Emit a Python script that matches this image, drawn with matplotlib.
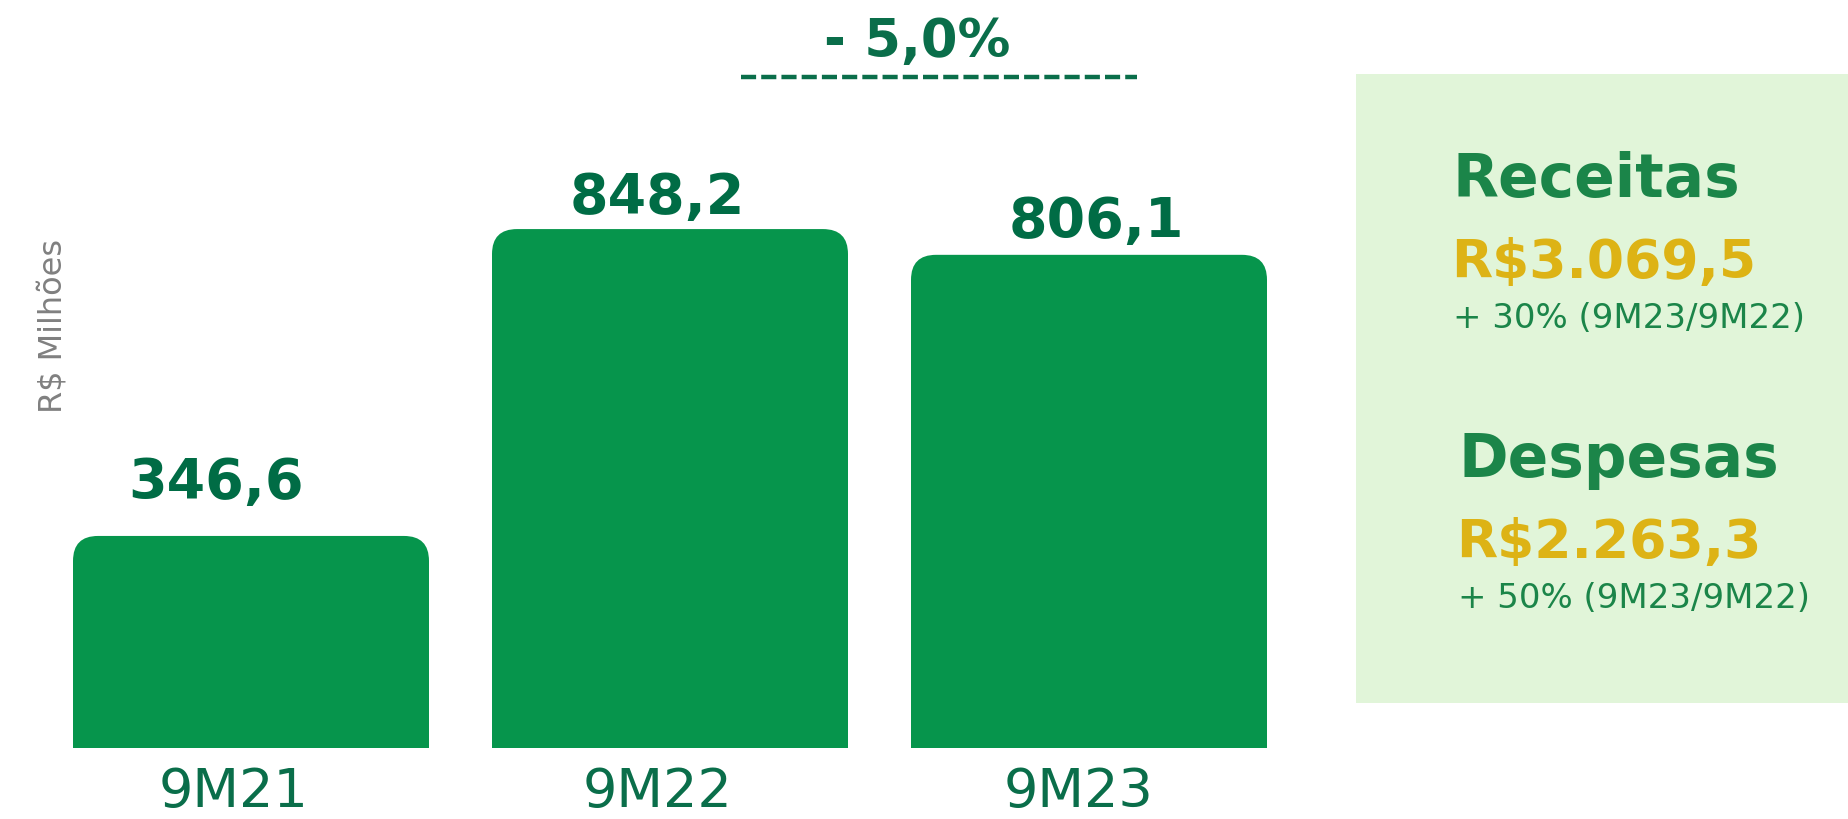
import matplotlib
matplotlib.use("Agg")
import matplotlib.pyplot as plt
from matplotlib.patches import FancyBboxPatch, Rectangle
from matplotlib.transforms import ScaledTranslation

# Data
categories = ["9M21", "9M22", "9M23"]
values = [346.6, 848.2, 806.1]
value_labels = ["346,6", "848,2", "806,1"]
variation_label = "- 5,0%"

panel_titles = ["Receitas", "Despesas"]
panel_amounts = ["R$3.069,5", "R$2.263,3"]
panel_growth = ["+ 30% (9M23/9M22)", "+ 50% (9M23/9M22)"]

# Colours
BAR_COLOR = "#06954c"
LABEL_COLOR = "#006c45"
CAT_COLOR = "#0a6e4a"
PANEL_BG = "#e1f5d9"
PANEL_GREEN = "#1b8549"
GOLD = "#ddb315"
GREY = "#808080"

W, H = 1848, 820
PX_PER_UNIT = 0.6118  # vertical pixels per R$ million
BAR_SPACING = 419     # pixels between bar centres
BASE_Y = 749          # pixel row of bar bottoms (from top)
FIRST_X = 251         # pixel column of first bar centre

plt.rcParams["font.family"] = ["DejaVu Sans"]

fig = plt.figure(figsize=(W / 100, H / 100), dpi=100)
ax = fig.add_axes([0, (H - BASE_Y) / H, 1, BASE_Y / H])
ax.set_xlim(-FIRST_X / BAR_SPACING, (W - FIRST_X) / BAR_SPACING)
ax.set_ylim(0, BASE_Y / PX_PER_UNIT)
ax.patch.set_visible(False)
for s in ax.spines.values():
    s.set_visible(False)
ax.set_yticks([])

x = list(range(len(categories)))
bar_w = 356 / BAR_SPACING
radius_px = 25
rx = radius_px / BAR_SPACING
ry = radius_px / PX_PER_UNIT

# square lower part from ax.bar, rounded top from a fancy box
bars = ax.bar(x, [v - ry for v in values], width=bar_w, color=BAR_COLOR, linewidth=0)
for b, v in zip(bars, values):
    ax.add_patch(FancyBboxPatch((b.get_x(), 0), b.get_width(), v,
                                boxstyle=f"round,pad=0,rounding_size={rx}",
                                mutation_aspect=ry / rx,
                                facecolor=BAR_COLOR, edgecolor="none"))

# value labels (pixel offsets from bar top centre)
label_offsets = [(-35, 39), (-13, 17), (7, 19)]
for xi, v, lab, (dx, dy) in zip(x, values, value_labels, label_offsets):
    ax.annotate(lab, xy=(xi, v), xytext=(dx, dy), textcoords="offset pixels",
                ha="center", va="baseline", fontsize=40, fontweight="bold",
                color=LABEL_COLOR)

ax.set_xticks(x, categories)
ax.tick_params(axis="x", length=0, pad=12, labelsize=39, labelcolor=CAT_COLOR)
for t, dx in zip(ax.get_xticklabels(), [-17, -12, -10]):
    t.set_transform(t.get_transform() + ScaledTranslation(dx / 100, 0, fig.dpi_scale_trans))

# variation bracket between 9M22 and 9M23
dash_y = (BASE_Y - 78) / PX_PER_UNIT
ax.plot([1.169, 2.115], [dash_y, dash_y], color=CAT_COLOR, lw=3.2,
        dashes=(3.4, 1.15), solid_capstyle="butt")


def px(xp, yp):
    return xp / W, 1 - yp / H


fig.text(*px(917, 57), variation_label, ha="center", va="baseline",
         fontsize=38, fontweight="bold", color=CAT_COLOR)

# y label
fig.text(*px(53, 326), "R$ Milhões", rotation=90, ha="center", va="center",
         fontsize=23, color=GREY)

# summary panel
fig.patches.append(Rectangle(px(1356, 704), (W - 1356) / W, (704 - 75) / H,
                             transform=fig.transFigure, facecolor=PANEL_BG,
                             edgecolor="none", zorder=1))
rows = [(1453, 197, 278, 328), (1458, 477, 558, 608)]
for (xp, y1, y2, y3), title, amount, growth in zip(rows, panel_titles, panel_amounts, panel_growth):
    fig.text(*px(xp, y1), title, ha="left", va="baseline", fontsize=43,
             fontweight="bold", color=PANEL_GREEN, zorder=3)
    fig.text(*px(xp - 2, y2), amount, ha="left", va="baseline", fontsize=38.5,
             fontweight="bold", color=GOLD, zorder=3)
    fig.text(*px(xp, y3), growth, ha="left", va="baseline", fontsize=24.5,
             color=PANEL_GREEN, zorder=3)

fig.savefig("out.png", dpi=100, facecolor="white")
